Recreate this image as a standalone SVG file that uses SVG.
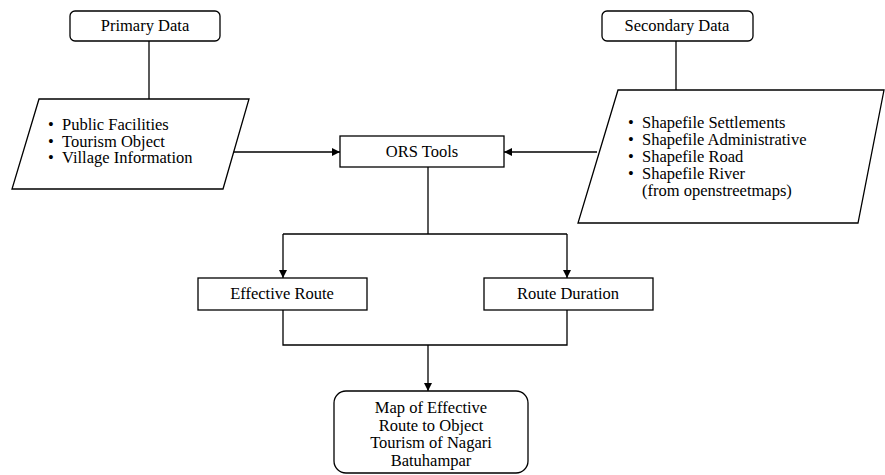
<svg xmlns="http://www.w3.org/2000/svg" width="885" height="475" viewBox="0 0 885 475">
<style>
.b{fill:#fff;stroke:#000;stroke-width:1.3}
.c{text-anchor:middle}
.l{fill:none;stroke:#000;stroke-width:1.3}
</style>
<defs>
<marker id="a" markerWidth="8" markerHeight="8" refX="8" refY="4" orient="auto" markerUnits="userSpaceOnUse">
<path d="M0,0 L8,4 L0,8 Z" fill="#000"/>
</marker>
</defs>
<rect width="885" height="475" fill="#fff"/>
<g id="connectors">
<path class="l" d="M149,41 V99"/>
<path class="l" d="M676,41 V90"/>
<path class="l" d="M233,152 H340" marker-end="url(#a)"/>
<path class="l" d="M597,152 H504" marker-end="url(#a)"/>
<path class="l" d="M428,167 V234"/>
<path class="l" d="M283,234 H567"/>
<path class="l" d="M283,234 V278" marker-end="url(#a)"/>
<path class="l" d="M567,234 V278" marker-end="url(#a)"/>
<path class="l" d="M283,310 V345 H567 V310"/>
<path class="l" d="M428,345 V391" marker-end="url(#a)"/>
</g>
<g font-family="Liberation Serif, Times New Roman, serif" font-size="16.5" fill="#000">
<g id="primary">
<rect class="b" x="70" y="11" width="150" height="30" rx="5"/>
<text class="c" x="145" y="31" fill="#000">Primary Data</text>
</g>
<g id="secondary">
<rect class="b" x="602" y="11" width="151" height="30" rx="5"/>
<text class="c" x="677" y="31" fill="#000">Secondary Data</text>
</g>
<g id="primary-list">
<polygon class="b" points="39,99 249,99 223,189 12,189"/>
<text x="48" y="130" fill="#000">•</text><text x="62" y="130" fill="#000">Public Facilities</text>
<text x="48" y="147" fill="#000">•</text><text x="62" y="147" fill="#000">Tourism Object</text>
<text x="48" y="163" fill="#000">•</text><text x="62" y="163" fill="#000">Village Information</text>
</g>
<g id="secondary-list">
<polygon class="b" points="618,90 884,90 858,223 578,223"/>
<text x="628" y="128" fill="#000">•</text><text x="642" y="128" fill="#000">Shapefile Settlements</text>
<text x="628" y="145" fill="#000">•</text><text x="642" y="145" fill="#000">Shapefile Administrative</text>
<text x="628" y="162" fill="#000">•</text><text x="642" y="162" fill="#000">Shapefile Road</text>
<text x="628" y="179" fill="#000">•</text><text x="642" y="179" fill="#000">Shapefile River</text>
<text x="642" y="196" fill="#000">(from openstreetmaps)</text>
</g>
<g id="ors">
<rect class="b" x="340" y="136" width="164" height="31"/>
<text class="c" x="422" y="157" fill="#000">ORS Tools</text>
</g>
<g id="effective">
<rect class="b" x="198" y="278" width="169" height="32"/>
<text class="c" x="282" y="299" fill="#000">Effective Route</text>
</g>
<g id="duration">
<rect class="b" x="484" y="278" width="169" height="32"/>
<text class="c" x="568" y="299" fill="#000">Route Duration</text>
</g>
<g id="map">
<rect class="b" x="334" y="391" width="194" height="82" rx="12"/>
<text class="c" x="431" y="413" fill="#000">Map of Effective</text>
<text class="c" x="431" y="431" fill="#000">Route to Object</text>
<text class="c" x="431" y="448" fill="#000">Tourism of Nagari</text>
<text class="c" x="431" y="466" fill="#000">Batuhampar</text>
</g>
</g>
</svg>
